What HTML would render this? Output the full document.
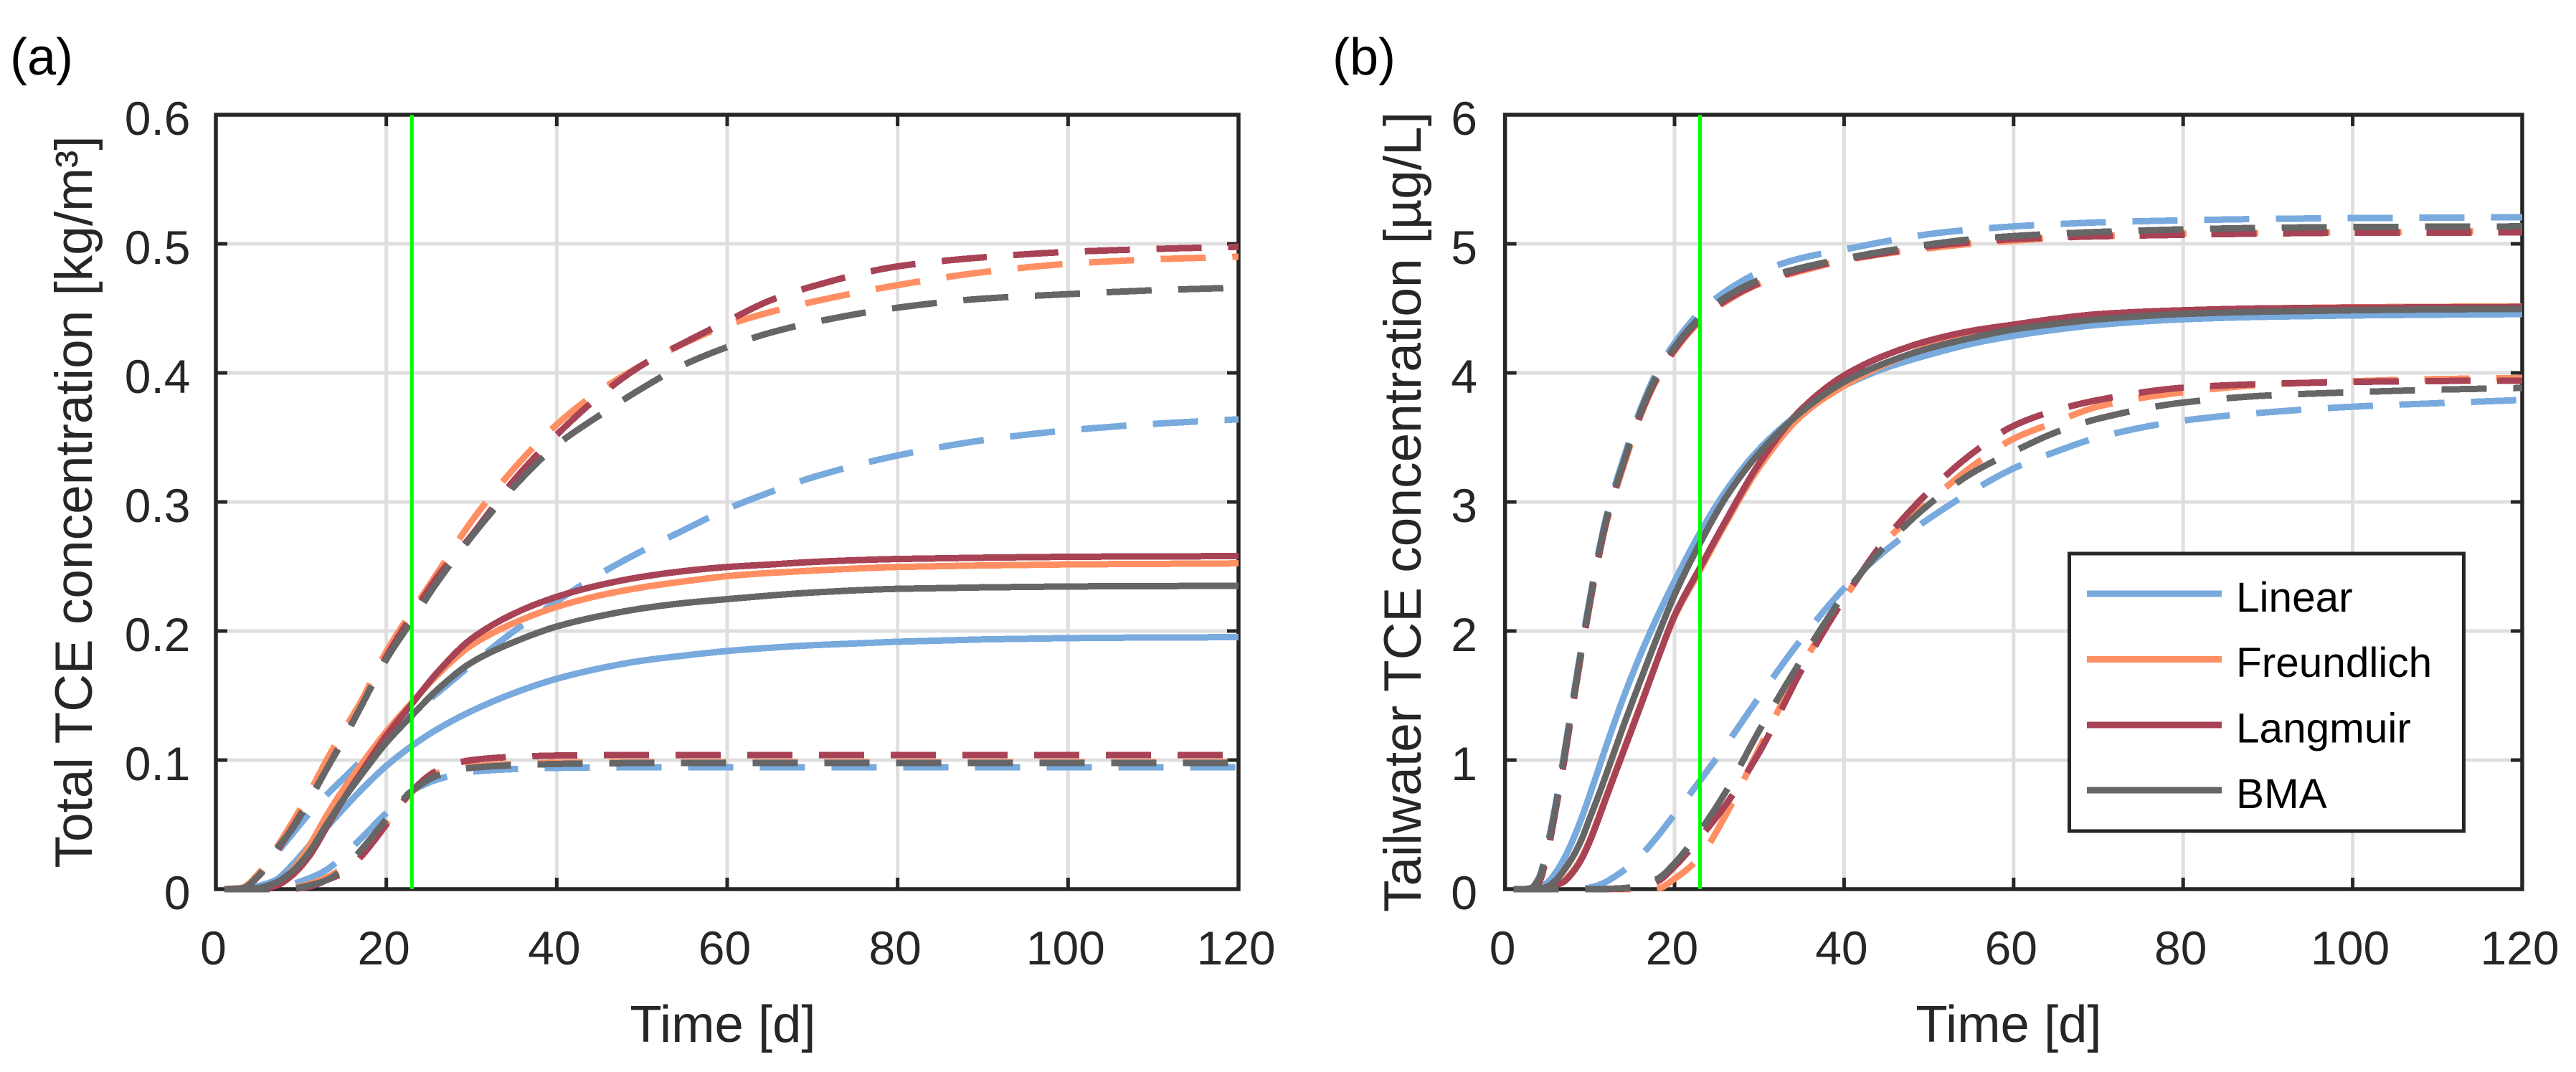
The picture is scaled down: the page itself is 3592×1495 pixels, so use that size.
<!DOCTYPE html>
<html lang="en">
<head>
<meta charset="utf-8">
<title>TCE concentration model comparison</title>
<style>
html,body{margin:0;padding:0;background:#fff;}
svg{display:block;}
text{font-family:"Liberation Sans",Arial,sans-serif;}
</style>
</head>
<body>
<svg id="figure" xmlns="http://www.w3.org/2000/svg" width="3592" height="1495" viewBox="0 0 3592 1495">
  <rect x="0" y="0" width="3592" height="1495" fill="#ffffff"/>
  <g id="panel-a"></g>
  <g id="panel-b"></g>
  <text x="14" y="104" font-size="72" fill="#000">(a)</text>
  <text x="1858" y="104" font-size="72" fill="#000">(b)</text>
  <text transform="translate(128,700) rotate(-90)" text-anchor="middle" font-size="73" fill="#262626">Total TCE concentration [kg/m³]</text>
  <text transform="translate(1981,714) rotate(-90)" text-anchor="middle" font-size="73" fill="#262626">Tailwater TCE concentration [µg/L]</text>
  <text x="1008" y="1453" text-anchor="middle" font-size="72.5" fill="#262626">Time [d]</text>
  <text x="2801" y="1453" text-anchor="middle" font-size="72.5" fill="#262626">Time [d]</text>
  <g id="legend">
    <rect x="2885.5" y="772" width="550" height="387" fill="#ffffff" stroke="#262626" stroke-width="5"/>
    <rect x="2910" y="823.5" width="188" height="9" fill="#78aade"/>
    <text x="3118" y="853" font-size="58.5" fill="#000">Linear</text>
    <rect x="2910" y="915" width="188" height="9" fill="#ff8f62"/>
    <text x="3118" y="944" font-size="58.5" fill="#000">Freundlich</text>
    <rect x="2910" y="1006.5" width="188" height="9" fill="#a84255"/>
    <text x="3118" y="1035.5" font-size="58.5" fill="#000">Langmuir</text>
    <rect x="2910" y="1097.5" width="188" height="9" fill="#666666"/>
    <text x="3118" y="1127" font-size="58.5" fill="#000">BMA</text>
  </g>
</svg>
<script>
// ---- shared axis data ----
var xTickLabels = [0, 20, 40, 60, 80, 100, 120];
var yTickLabelsA = [0, 0.1, 0.2, 0.3, 0.4, 0.5, 0.6];
var yTickLabelsB = [0, 1, 2, 3, 4, 5, 6];
var markerDay = [23];

// ---- panel (a): time samples [d] ----
var timeA = [1,3,5,7,9,11,13,15,17,20,23,26,30,35,40,45,50,55,60,65,70,80,90,100,110,120];

// ---- panel (a): total TCE concentration [kg/m3] ----
var aLinearMean = [0,.0004,.0025,.007,.019,.034,.048,.0625,.0765,.0955,.111,.124,.138,.152,.163,.171,.177,.181,.1845,.187,.189,.1917,.1935,.1945,.195,.1952];
var aLinearUpper = [0,.001,.011,.027,.043,.059,.073,.086,.099,.119,.136,.152,.174,.2,.223,.244,.262,.2785,.2945,.3075,.319,.336,.3478,.3555,.3605,.364];
var aLinearLower = [0,0,0,.0005,.004,.0085,.015,.026,.039,.059,.076,.085,.091,.093,.094,.0942,.0944,.0944,.0944,.0944,.0944,.0944,.0944,.0944,.0944,.0944];
var aFreundlichMean = [0,.0001,.0005,.004,.015,.034,.057,.0778,.096,.122,.1445,.166,.189,.2063,.2187,.2275,.2338,.2385,.2425,.245,.2468,.2496,.2508,.2516,.252,.2524];
var aFreundlichUpper = [0,.001,.012,.031,.052,.075,.1,.123,.145,.184,.215,.245,.285,.326,.36,.386,.406,.423,.437,.447,.455,.468,.478,.4845,.488,.49];
var aFreundlichLower = [0,0,0,0,.001,.004,.009,.017,.028,.051,.075,.09,.095,.097,.098,.0982,.0983,.0983,.0983,.0983,.0983,.0983,.0983,.0983,.0983,.0983];
var aLangmuirMean = [0,0,.0003,.0025,.011,.026,.048,.07,.09,.119,.1436,.168,.194,.2135,.2265,.2355,.242,.2465,.2496,.2515,.2535,.2558,.2568,.2575,.2578,.258];
var aLangmuirUpper = [0,.0005,.01,.028,.048,.07,.093,.117,.141,.18,.212,.242,.274,.317,.352,.382,.406,.4235,.44,.456,.467,.4825,.4895,.4937,.496,.4977];
var aLangmuirLower = [0,0,0,0,.0003,.002,.007,.013,.025,.05,.076,.092,.1,.1025,.1035,.1038,.1039,.1039,.1039,.1039,.1039,.1039,.1039,.1039,.1039,.1039];
var aBmaMean = [0,.0002,.001,.005,.014,.029,.05,.07,.088,.1135,.1345,.1546,.1756,.1915,.2035,.2115,.2175,.2217,.2247,.2275,.2298,.2327,.2338,.2345,.2348,.235];
var aBmaUpper = [0,.0005,.0105,.03,.047,.069,.093,.116,.141,.178,.208,.238,.273,.312,.344,.367,.388,.4065,.42,.431,.439,.4505,.4575,.461,.464,.466];
var aBmaLower = [0,0,0,0,.0005,.003,.007,.016,.03,.054,.076,.088,.094,.096,.097,.0975,.0977,.0977,.0977,.0977,.0977,.0977,.0977,.0977,.0977,.0977];

// ---- panel (b): time samples [d] ----
var timeB = [1,2,3,4,5,6,7,8,9,10,11,12,14,16,18,20,23,26,30,35,40,45,50,55,60,65,70,80,90,100,110,120];

// ---- panel (b): tailwater TCE concentration [ug/L] ----
var bLinearMean = [0,0,.002,.012,.05,.13,.24,.38,.545,.73,.925,1.12,1.49,1.82,2.116,2.386,2.76,3.08,3.41,3.7,3.9,4.04,4.14,4.225,4.287,4.335,4.372,4.415,4.435,4.445,4.451,4.455];
var bLinearUpper = [0,0,.008,.09,.34,.67,1.06,1.47,1.87,2.25,2.6,2.9,3.34,3.72,4.02,4.23,4.47,4.63,4.78,4.89,4.955,5.02,5.075,5.11,5.135,5.152,5.166,5.182,5.193,5.199,5.203,5.205];
var bLinearLower = [0,0,0,0,0,0,0,0,.002,.012,.03,.06,.145,.26,.41,.58,.84,1.11,1.49,1.94,2.33,2.63,2.87,3.08,3.26,3.39,3.5,3.63,3.695,3.738,3.765,3.79];
var bFreundlichMean = [0,0,0,.001,.006,.03,.07,.14,.24,.38,.55,.73,1.08,1.43,1.78,2.11,2.47,2.83,3.27,3.67,3.9,4.07,4.2,4.285,4.345,4.4,4.44,4.48,4.5,4.508,4.512,4.515];
var bFreundlichUpper = [0,0,.003,.06,.29,.62,1,1.42,1.82,2.2,2.55,2.85,3.28,3.67,3.96,4.17,4.4,4.55,4.69,4.79,4.87,4.925,4.965,5,5.024,5.045,5.06,5.08,5.085,5.09,5.095,5.1];
var bFreundlichLower = [0,0,0,0,0,0,0,0,0,0,0,0,0,0,.005,.08,.25,.57,1.09,1.73,2.25,2.7,3,3.27,3.49,3.62,3.74,3.85,3.91,3.935,3.952,3.96];
var bLangmuirMean = [0,0,0,.001,.005,.03,.06,.13,.23,.37,.54,.72,1.07,1.42,1.78,2.12,2.49,2.85,3.3,3.72,3.98,4.14,4.25,4.325,4.374,4.42,4.455,4.485,4.5,4.505,4.508,4.51];
var bLangmuirUpper = [0,0,.002,.05,.28,.62,1,1.42,1.83,2.21,2.56,2.86,3.3,3.68,3.97,4.18,4.41,4.56,4.695,4.8,4.875,4.93,4.98,5.012,5.036,5.05,5.058,5.07,5.08,5.086,5.087,5.088];
var bLangmuirLower = [0,0,0,0,0,0,0,0,0,0,0,.001,.004,.015,.06,.175,.4,.65,1.06,1.7,2.25,2.72,3.08,3.37,3.59,3.71,3.79,3.885,3.915,3.93,3.937,3.94];
var bBmaMean = [0,0,0,.004,.02,.07,.15,.25,.38,.55,.72,.9,1.27,1.62,1.96,2.28,2.68,3.03,3.38,3.7,3.93,4.08,4.19,4.27,4.337,4.38,4.415,4.456,4.475,4.485,4.492,4.495];
var bBmaUpper = [0,0,.005,.08,.32,.65,1.04,1.45,1.85,2.23,2.58,2.88,3.31,3.7,3.99,4.2,4.43,4.585,4.72,4.815,4.885,4.945,4.995,5.035,5.06,5.078,5.092,5.112,5.124,5.13,5.133,5.135];
var bBmaLower = [0,0,0,0,0,0,0,0,0,0,0,.002,.008,.03,.08,.2,.45,.75,1.23,1.78,2.28,2.67,2.98,3.22,3.39,3.54,3.645,3.77,3.825,3.85,3.87,3.883];

var NS = 'http://www.w3.org/2000/svg';
var COLORS = {linear:'#78aade', freundlich:'#ff8f62', langmuir:'#a84255', bma:'#666666'};
var AXIS = '#262626', GRID = '#dfdfdf', GREEN = '#00ff00';

function make(parent, tag, attrs, txt) {
  var el = document.createElementNS(NS, tag);
  for (var k in attrs) el.setAttribute(k, attrs[k]);
  if (txt !== undefined) el.textContent = txt;
  parent.appendChild(el);
  return el;
}

// monotone cubic path through the data points
function curvePath(px, py) {
  var n = px.length, d = [], m = [], i;
  for (i = 0; i < n - 1; i++) d[i] = (py[i+1] - py[i]) / (px[i+1] - px[i]);
  m[0] = d[0]; m[n-1] = d[n-2];
  for (i = 1; i < n - 1; i++) {
    if (d[i-1] * d[i] <= 0) m[i] = 0;
    else {
      var h0 = px[i] - px[i-1], h1 = px[i+1] - px[i];
      m[i] = (h0 + h1) * 3 / ((2*h1 + h0) / d[i-1] + (h1 + 2*h0) / d[i]);
    }
  }
  var s = 'M' + px[0].toFixed(2) + ' ' + py[0].toFixed(2);
  for (i = 0; i < n - 1; i++) {
    var h = (px[i+1] - px[i]) / 3;
    s += 'C' + (px[i] + h).toFixed(2) + ' ' + (py[i] + m[i]*h).toFixed(2) + ' ' +
         (px[i+1] - h).toFixed(2) + ' ' + (py[i+1] - m[i+1]*h).toFixed(2) + ' ' +
         px[i+1].toFixed(2) + ' ' + py[i+1].toFixed(2);
  }
  return s;
}

function drawPanel(p) {
  var g = document.getElementById(p.id);
  var sx = function (t) { return p.left + (t / 120) * (p.right - p.left); };
  var sy = function (v) { return p.bottom - (v / p.yMax) * (p.bottom - p.top); };
  var i, el;

  // grid
  for (i = 1; i < xTickLabels.length - 1; i++) {
    el = make(g, 'line', {x1:sx(xTickLabels[i]), x2:sx(xTickLabels[i]), y1:p.top, y2:p.bottom, stroke:GRID, 'stroke-width':5});
    
    
  }
  for (i = 1; i < p.yTicks.length - 1; i++) {
    el = make(g, 'line', {x1:p.left, x2:p.right, y1:sy(p.yTicks[i]), y2:sy(p.yTicks[i]), stroke:GRID, 'stroke-width':5});
    
    
  }

  // ticks
  for (i = 1; i < xTickLabels.length - 1; i++) {
    var tx = sx(xTickLabels[i]);
    el = make(g, 'line', {x1:tx, x2:tx, y1:p.bottom, y2:p.bottom - 16, stroke:AXIS, 'stroke-width':5});
    
    
    el = make(g, 'line', {x1:tx, x2:tx, y1:p.top, y2:p.top + 16, stroke:AXIS, 'stroke-width':5});
    
    
  }
  for (i = 1; i < p.yTicks.length - 1; i++) {
    var ty = sy(p.yTicks[i]);
    el = make(g, 'line', {x1:p.left, x2:p.left + 16, y1:ty, y2:ty, stroke:AXIS, 'stroke-width':5});
    
    
    el = make(g, 'line', {x1:p.right, x2:p.right - 16, y1:ty, y2:ty, stroke:AXIS, 'stroke-width':5});
    
    
  }

  // axes box
  el = make(g, 'rect', {x:p.left, y:p.top, width:p.right - p.left, height:p.bottom - p.top, fill:'none', stroke:AXIS, 'stroke-width':5.5});
  
  

  // tick labels
  for (i = 0; i < xTickLabels.length; i++) {
    el = make(g, 'text', {x:sx(xTickLabels[i]) - 3.5, y:p.bottom + 105, 'text-anchor':'middle', 'font-size':66, fill:AXIS}, String(xTickLabels[i]));
    
    
  }
  for (i = 0; i < p.yTicks.length; i++) {
    el = make(g, 'text', {x:p.yLabelX, y:sy(p.yTicks[i]) + 28, 'text-anchor':'end', 'font-size':66, fill:AXIS}, String(p.yTicks[i]));
    
    
  }

  // series
  p.series.forEach(function (s) {
    var px = p.time.map(sx), py = s.values.map(sy);
    var line = make(g, 'path', {d:curvePath(px, py), fill:'none', stroke:s.color, 'stroke-width':9,
      'stroke-linecap':'butt', 'stroke-linejoin':'round', 'shape-rendering':'crispEdges'});
    if (s.dashed) line.setAttribute('stroke-dasharray', '63 37');
    
    
  });

  // marker line
  el = make(g, 'line', {x1:sx(markerDay[0]), x2:sx(markerDay[0]), y1:p.top, y2:p.bottom, stroke:GREEN, 'stroke-width':5});
  
  
}

drawPanel({
  id:'panel-a', left:301, right:1727, top:160, bottom:1240, yMax:0.6, yTicks:yTickLabelsA, yLabelX:265.5, time:timeA,
  series:[
    {name:'linear-mean', color:COLORS.linear, values:aLinearMean},
    {name:'linear-upper', color:COLORS.linear, dashed:true, values:aLinearUpper},
    {name:'linear-lower', color:COLORS.linear, dashed:true, values:aLinearLower},
    {name:'freundlich-mean', color:COLORS.freundlich, values:aFreundlichMean},
    {name:'freundlich-upper', color:COLORS.freundlich, dashed:true, values:aFreundlichUpper},
    {name:'freundlich-lower', color:COLORS.freundlich, dashed:true, values:aFreundlichLower},
    {name:'langmuir-mean', color:COLORS.langmuir, values:aLangmuirMean},
    {name:'langmuir-upper', color:COLORS.langmuir, dashed:true, values:aLangmuirUpper},
    {name:'langmuir-lower', color:COLORS.langmuir, dashed:true, values:aLangmuirLower},
    {name:'bma-mean', color:COLORS.bma, values:aBmaMean},
    {name:'bma-upper', color:COLORS.bma, dashed:true, values:aBmaUpper},
    {name:'bma-lower', color:COLORS.bma, dashed:true, values:aBmaLower}
  ]
});

drawPanel({
  id:'panel-b', left:2098.6, right:3517, top:160, bottom:1240, yMax:6, yTicks:yTickLabelsB, yLabelX:2060, time:timeB,
  series:[
    {name:'linear-mean', color:COLORS.linear, values:bLinearMean},
    {name:'linear-upper', color:COLORS.linear, dashed:true, values:bLinearUpper},
    {name:'linear-lower', color:COLORS.linear, dashed:true, values:bLinearLower},
    {name:'freundlich-mean', color:COLORS.freundlich, values:bFreundlichMean},
    {name:'freundlich-upper', color:COLORS.freundlich, dashed:true, values:bFreundlichUpper},
    {name:'freundlich-lower', color:COLORS.freundlich, dashed:true, values:bFreundlichLower},
    {name:'langmuir-mean', color:COLORS.langmuir, values:bLangmuirMean},
    {name:'langmuir-upper', color:COLORS.langmuir, dashed:true, values:bLangmuirUpper},
    {name:'langmuir-lower', color:COLORS.langmuir, dashed:true, values:bLangmuirLower},
    {name:'bma-mean', color:COLORS.bma, values:bBmaMean},
    {name:'bma-upper', color:COLORS.bma, dashed:true, values:bBmaUpper},
    {name:'bma-lower', color:COLORS.bma, dashed:true, values:bBmaLower}
  ]
});
</script>
</body>
</html>
